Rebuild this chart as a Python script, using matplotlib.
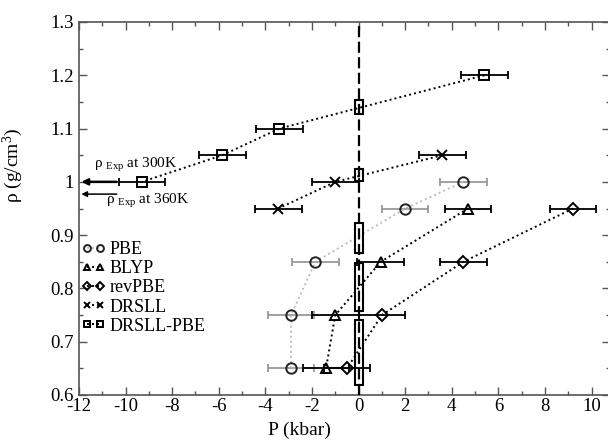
import matplotlib
matplotlib.use("Agg")
import matplotlib.pyplot as plt
from matplotlib.patches import Rectangle
from matplotlib.ticker import MultipleLocator, FormatStrFormatter

plt.rcParams['font.family'] = ['Liberation Serif', 'DejaVu Serif']
plt.rcParams['mathtext.fontset'] = 'custom'
plt.rcParams['mathtext.rm'] = 'Liberation Serif'
plt.rcParams['mathtext.it'] = 'Liberation Serif:italic'
plt.rcParams['axes.unicode_minus'] = False

# ---- data ----
pbe_P = [4.5, 2.0, -1.85, -2.9, -2.9]
pbe_rho = [1.0, 0.95, 0.85, 0.75, 0.65]
blyp_P = [4.7, 0.95, -1.0, -1.4]
blyp_rho = [0.95, 0.85, 0.75, 0.65]
revpbe_P = [9.2, 4.5, 1.0, -0.5]
revpbe_rho = [0.95, 0.85, 0.75, 0.65]
drsll_P = [3.6, -1.0, -3.45]
drsll_rho = [1.05, 1.0, 0.95]
drsllpbe_P = [5.4, -3.4, -5.85, -9.3]
drsllpbe_rho = [1.2, 1.1, 1.05, 1.0]
P_err = 1.0

# equilibrium (P = 0) density ranges
box_lo = [1.127, 1.001, 0.866, 0.758, 0.619]
box_hi = [1.154, 1.025, 0.923, 0.848, 0.741]

rho_exp_300 = 1.0
rho_exp_360 = 0.977

fig = plt.figure(figsize=(6.08, 4.41), dpi=100)
ax = fig.add_axes([79/608, 46/441, 531/608, 373/441])

dot = (0, (1, 1.6))
series = [
    (pbe_P, pbe_rho, 'o', 'PBE', '#bdbdbd', '#999999', '#222222', 7.5),
    (blyp_P, blyp_rho, '^', 'BLYP', 'black', 'black', 'black', 7.5),
    (revpbe_P, revpbe_rho, 'D', 'revPBE', 'black', 'black', 'black', 6.0),
    (drsll_P, drsll_rho, 'x', 'DRSLL', 'black', 'black', 'black', 6.5),
    (drsllpbe_P, drsllpbe_rho, 's', 'DRSLL-PBE', 'black', 'black', 'black', 6.5),
]
handles = []
for P, rho, m, lab, lc, ec, mc, ms in series:
    ax.errorbar(P, rho, xerr=P_err, fmt='none', ecolor=ec, elinewidth=1.3,
                capsize=3.2, capthick=1.3, zorder=2)
    h, = ax.plot(P, rho, ls=dot, lw=1.4, color=lc, marker=m, ms=ms,
                 mfc='none', mec=mc, mew=1.4, label=lab, zorder=3)
    handles.append(h)

ax.axvline(0, color='black', ls=(0, (5, 2)), lw=1.6, zorder=4)
for lo, hi in zip(box_lo, box_hi):
    ax.add_patch(Rectangle((-0.17, lo), 0.34, hi - lo, fill=False,
                           edgecolor='black', lw=1.5, zorder=5))

# experimental density arrows
ax.annotate('', xy=(-11.9, rho_exp_300), xytext=(-10.38, rho_exp_300),
            arrowprops=dict(arrowstyle='-|>', color='black', lw=1.8,
                            mutation_scale=9, shrinkA=0, shrinkB=0))
ax.annotate('', xy=(-11.9, rho_exp_360), xytext=(-10.38, rho_exp_360),
            arrowprops=dict(arrowstyle='-|>', color='black', lw=1.1,
                            mutation_scale=8, shrinkA=0, shrinkB=0))
ax.text(-11.35, 1.0255, r'ρ $_{\mathrm{Exp}}$ at 300K', fontsize=11,
        ha='left', va='baseline')
ax.text(-10.85, 0.9585, r'ρ $_{\mathrm{Exp}}$ at 360K', fontsize=11,
        ha='left', va='baseline')

ax.set_xlim(-12, -12 + 531/23.3)
ax.set_ylim(0.6, 1.3)
ax.xaxis.set_major_locator(MultipleLocator(2))
ax.xaxis.set_minor_locator(MultipleLocator(1))
ax.yaxis.set_major_locator(MultipleLocator(0.1))
ax.yaxis.set_minor_locator(MultipleLocator(0.05))
ax.yaxis.set_major_formatter(FormatStrFormatter('%g'))
ax.tick_params(which='both', direction='in', top=True, right=True,
               color='#555555', labelsize=13.5)
ax.tick_params(which='major', length=5.5, width=1)
ax.tick_params(which='minor', length=3, width=1)
ax.tick_params(axis='x', pad=2)
ax.tick_params(axis='y', pad=4)
for s in ax.spines.values():
    s.set_color('#555555')
    s.set_linewidth(1.2)

ax.set_xlabel('P (kbar)', fontsize=14)
ax.set_ylabel(r'ρ (g/cm$^{3}$)', fontsize=14)
ax.xaxis.set_label_coords(0.415, -0.072)
ax.yaxis.set_label_coords(-0.102, 0.615)

ax.legend(handles=handles, loc='upper left', bbox_to_anchor=(0.0, 0.42),
          frameon=False, fontsize=13, numpoints=2, handlelength=1.3,
          handletextpad=0.25, labelspacing=0.12, borderpad=0.1,
          borderaxespad=0.05, markerscale=0.66)

fig.savefig('out.png', dpi=100)
